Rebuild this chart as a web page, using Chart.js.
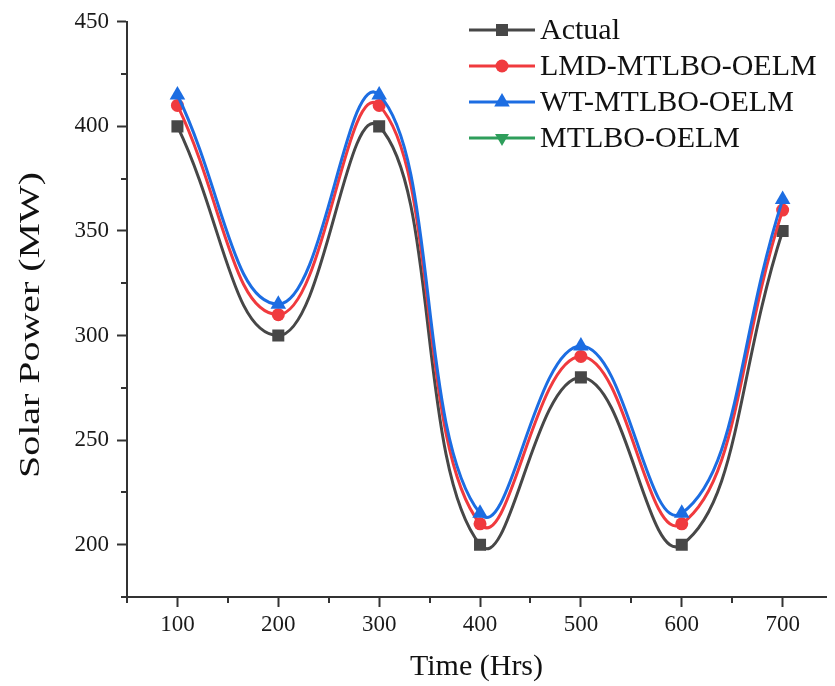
<!DOCTYPE html>
<html>
<head>
<meta charset="utf-8">
<script src="https://cdn.jsdelivr.net/npm/chart.js@4/dist/chart.umd.min.js"></script>
<style>
  html, body { margin: 0; padding: 0; background: #fff; }
  #wrap { width: 835px; height: 686px; }
</style>
</head>
<body>
<div id="wrap"><canvas id="chart" width="835" height="686"></canvas></div>
<script>
// data
const hours = [100, 200, 300, 400, 500, 600, 700];
const actual = [400, 300, 400, 200, 280, 200, 350];
const lmdMtlboOelm = [410, 310, 410, 210, 290, 210, 360];
const wtMtlboOelm = [415, 315, 415, 215, 295, 215, 365];
// green series is listed in the legend but never shows in the plot
const mtlboOelm = [415, 315, 415, 215, 295, 215, 365];

const xTicks = [100, 200, 300, 400, 500, 600, 700];
const yTicks = [200, 250, 300, 350, 400, 450];
const xMinor = [50, 150, 250, 350, 450, 550, 650];
const yMinor = [175, 225, 275, 325, 375, 425];

const FONT = "'Liberation Serif', 'Times New Roman', serif";
const AXIS = '#333333';

const toPoints = (vals) => vals.map((v, i) => ({ x: hours[i], y: v }));

function series(label, vals, color, style, radius, rotation, order) {
    return {
        label,
        data: toPoints(vals),
        borderColor: color,
        backgroundColor: color,
        borderWidth: 3,
        tension: 0.45,
        pointStyle: style,
        pointRadius: radius,
        pointRotation: rotation,
        pointBorderWidth: 0,
        order
    };
}

// minor ticks, rotated y title and the in-plot legend
const extras = {
    id: 'extras',
    afterDraw(chart) {
        const { ctx, scales } = chart;
        const x = scales.x;
        const y = scales.y;

        ctx.save();
        ctx.strokeStyle = AXIS;
        ctx.lineWidth = 2;
        xMinor.forEach((v) => {
            const px = Math.round(x.getPixelForValue(v));
            ctx.beginPath();
            ctx.moveTo(px, x.top);
            ctx.lineTo(px, x.top + 6);
            ctx.stroke();
        });
        yMinor.forEach((v) => {
            const py = Math.round(y.getPixelForValue(v));
            ctx.beginPath();
            ctx.moveTo(y.right, py);
            ctx.lineTo(y.right - 6, py);
            ctx.stroke();
        });

        // y title
        ctx.fillStyle = '#111';
        ctx.font = '30px ' + FONT;
        ctx.textAlign = 'center';
        ctx.textBaseline = 'middle';
        ctx.translate(31, 325);
        ctx.rotate(-Math.PI / 2);
        ctx.scale(1.33, 1);
        ctx.fillText('Solar Power (MW)', 0, 0);
        ctx.restore();

        // legend
        ctx.save();
        const rows = [30, 66, 102, 138];
        chart.data.datasets.forEach((ds, i) => {
            const ry = rows[i];
            ctx.strokeStyle = ds.borderColor;
            ctx.fillStyle = ds.backgroundColor;
            ctx.lineWidth = 3;
            ctx.beginPath();
            ctx.moveTo(469, ry);
            ctx.lineTo(535, ry);
            ctx.stroke();
            Chart.helpers.drawPoint(ctx, {
                pointStyle: ds.pointStyle,
                radius: ds.pointRadius,
                rotation: ds.pointRotation,
                borderWidth: 0
            }, 502, ry);
            ctx.fillStyle = '#111';
            ctx.font = '30px ' + FONT;
            ctx.textAlign = 'left';
            ctx.textBaseline = 'middle';
            ctx.fillText(ds.label, 540, ry + 1);
        });
        ctx.restore();
    }
};

const green = series('MTLBO-OELM', mtlboOelm, '#2e9e5b', 'triangle', 8, 180, 4);
green.hidden = true;

new Chart(document.getElementById('chart'), {
    type: 'line',
    data: {
        datasets: [
            series('Actual', actual, '#474747', 'rect', 8.5, 0, 3),
            series('LMD-MTLBO-OELM', lmdMtlboOelm, '#f03a3e', 'circle', 6.5, 0, 2),
            series('WT-MTLBO-OELM', wtMtlboOelm, '#1c6de2', 'triangle', 9, 0, 1),
            green
        ]
    },
    options: {
        responsive: false,
        animation: false,
        devicePixelRatio: 1,
        layout: { padding: { top: 20, right: 0, left: 0, bottom: 0 } },
        plugins: {
            legend: { display: false },
            tooltip: { enabled: false }
        },
        scales: {
            x: {
                type: 'linear',
                position: 'bottom',
                min: 50,
                max: 743,
                afterBuildTicks: (s) => { s.ticks = xTicks.map((v) => ({ value: v })); },
                afterFit: (s) => { s.height = 89; },
                grid: { drawOnChartArea: false, tickLength: 10, tickColor: AXIS, tickWidth: 2 },
                border: { color: AXIS, width: 2 },
                ticks: { font: { family: FONT, size: 23 }, color: '#1a1a1a', padding: 4, maxRotation: 0 },
                title: {
                    display: true,
                    text: 'Time (Hrs)',
                    font: { family: FONT, size: 30 },
                    color: '#111',
                    padding: { top: 0, bottom: 1 }
                }
            },
            y: {
                type: 'linear',
                min: 175,
                max: 450,
                afterBuildTicks: (s) => { s.ticks = yTicks.map((v) => ({ value: v })); },
                afterFit: (s) => { s.width = 127; },
                grid: { drawOnChartArea: false, tickLength: 10, tickColor: AXIS, tickWidth: 2 },
                border: { color: AXIS, width: 2 },
                ticks: { font: { family: FONT, size: 23 }, color: '#1a1a1a', padding: 8 }
            }
        }
    },
    plugins: [extras]
});
</script>
</body>
</html>
